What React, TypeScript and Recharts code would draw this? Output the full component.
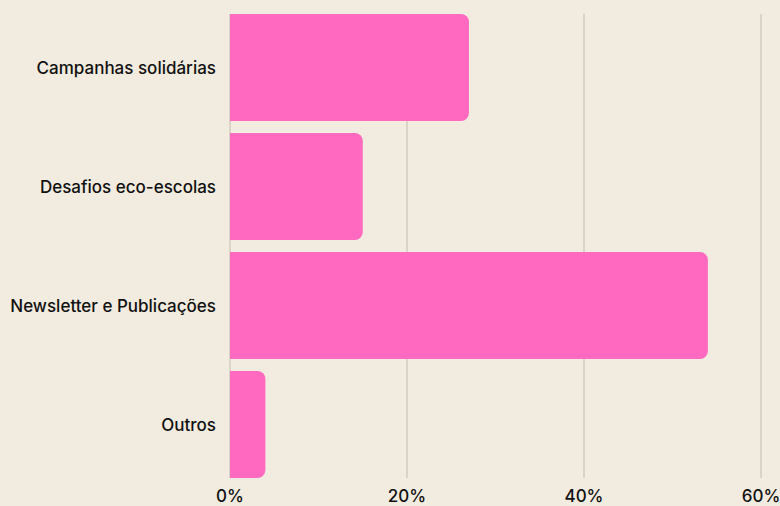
import { Bar, BarChart, CartesianGrid, XAxis, YAxis } from 'recharts'

const categories = ['Campanhas solidárias', 'Desafios eco-escolas', 'Newsletter e Publicações', 'Outros']
const shares = [27, 15, 54, 4]
const xTicks = [0, 20, 40, 60]

const data = categories.map((name, i) => ({ name, value: shares[i] }))

export default function App(): React.JSX.Element {
  return (
    <div style={{ position: 'fixed', left: 0, top: 0, background: '#f2ebdf', fontFamily: 'Inter, sans-serif' }}>
      <BarChart
        width={780}
        height={506}
        data={data}
        layout="vertical"
        margin={{ top: 14, right: 19, bottom: 0, left: 0 }}
        barCategoryGap={6}
      >
        <CartesianGrid horizontal={false} stroke="#c9c5b5" strokeWidth={1.2} />
        <XAxis
          type="number"
          domain={[0, 60]}
          ticks={xTicks}
          tickFormatter={(v: number) => `${v}%`}
          axisLine={false}
          tickLine={false}
          tickSize={0}
          tickMargin={12}
          height={28}
          interval={0}
          tick={{ fill: '#111', fontSize: 17, fontWeight: 500 }}
        />
        <YAxis
          type="category"
          dataKey="name"
          width={230}
          padding={{ top: -6, bottom: -6 }}
          axisLine={false}
          tickLine={false}
          tickSize={0}
          tickMargin={14}
          tick={{ fill: '#111', fontSize: 17, fontWeight: 500 }}
        />
        <Bar dataKey="value" fill="#ff69c0" radius={[0, 8, 8, 0]} isAnimationActive={false} />
      </BarChart>
    </div>
  )
}
